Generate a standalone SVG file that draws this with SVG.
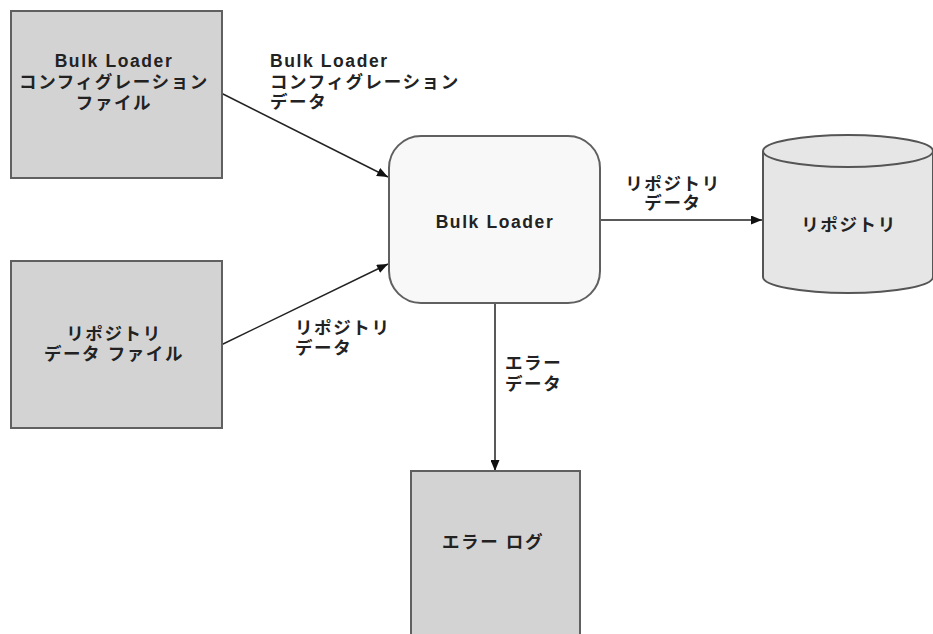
<svg xmlns="http://www.w3.org/2000/svg" width="933" height="634" viewBox="0 0 933 634">
  <defs>
    <marker id="arrow" viewBox="0 0 11 9" refX="11" refY="4.5" markerWidth="11" markerHeight="9" markerUnits="userSpaceOnUse" orient="auto">
      <path d="M0,0 L11,4.5 L0,9 Z" fill="#111"/>
    </marker>
    <style>
      .file { fill: #d3d3d3; stroke: #606060; stroke-width: 2; }
      .proc { fill: #f8f8f8; stroke: #606060; stroke-width: 2; }
      .db { fill: #e6e6e6; stroke: #555; stroke-width: 2; }
      .flow { stroke: #222; stroke-width: 1.5; fill: none; marker-end: url(#arrow); }
      text { font-family: "Liberation Sans", "Noto Sans CJK JP", sans-serif; font-size: 17.5px; font-weight: bold; fill: #222; letter-spacing: 1.6px; }
      .c { text-anchor: middle; }
    </style>
  </defs>
  <rect width="933" height="634" fill="#fff"/>

  <!-- data flows -->
  <g id="connectors">
    <line class="flow" x1="221" y1="93" x2="388" y2="177"/>
    <line class="flow" x1="221" y1="345" x2="388" y2="264"/>
    <line class="flow" x1="600" y1="220" x2="762" y2="220"/>
    <line class="flow" x1="495" y1="303" x2="495" y2="471"/>
    <text x="270" y="67">Bulk Loader</text>
    <text x="270" y="88">コンフィグレーション</text>
    <text x="270" y="108">データ</text>
    <text x="295" y="334">リポジトリ</text>
    <text x="295" y="354">データ</text>
    <text class="c" x="673" y="190">リポジトリ</text>
    <text class="c" x="673" y="209">データ</text>
    <text x="505" y="369">エラー</text>
    <text x="505" y="390">データ</text>
  </g>

  <g id="config-file">
    <rect class="file" x="11" y="11" width="211" height="167"/>
    <text class="c" x="114" y="67">Bulk Loader</text>
    <text class="c" x="114" y="88">コンフィグレーション</text>
    <text class="c" x="114" y="109">ファイル</text>
  </g>

  <g id="repository-data-file">
    <rect class="file" x="11" y="261" width="211" height="167"/>
    <text class="c" x="114" y="340">リポジトリ</text>
    <text class="c" x="114" y="360">データ ファイル</text>
  </g>

  <g id="bulk-loader">
    <rect class="proc" x="389" y="136" width="211" height="167" rx="32" ry="32"/>
    <text class="c" x="495" y="228">Bulk Loader</text>
  </g>

  <g id="repository">
    <path class="db" d="M763,151 L763,277 A85,16 0 0 0 933,277 L933,151"/>
    <ellipse class="db" cx="848" cy="151" rx="85" ry="16"/>
    <text class="c" x="849" y="231">リポジトリ</text>
  </g>

  <g id="error-log">
    <rect class="file" x="411" y="471" width="169" height="175"/>
    <text class="c" x="493" y="548">エラー ログ</text>
  </g>
</svg>
